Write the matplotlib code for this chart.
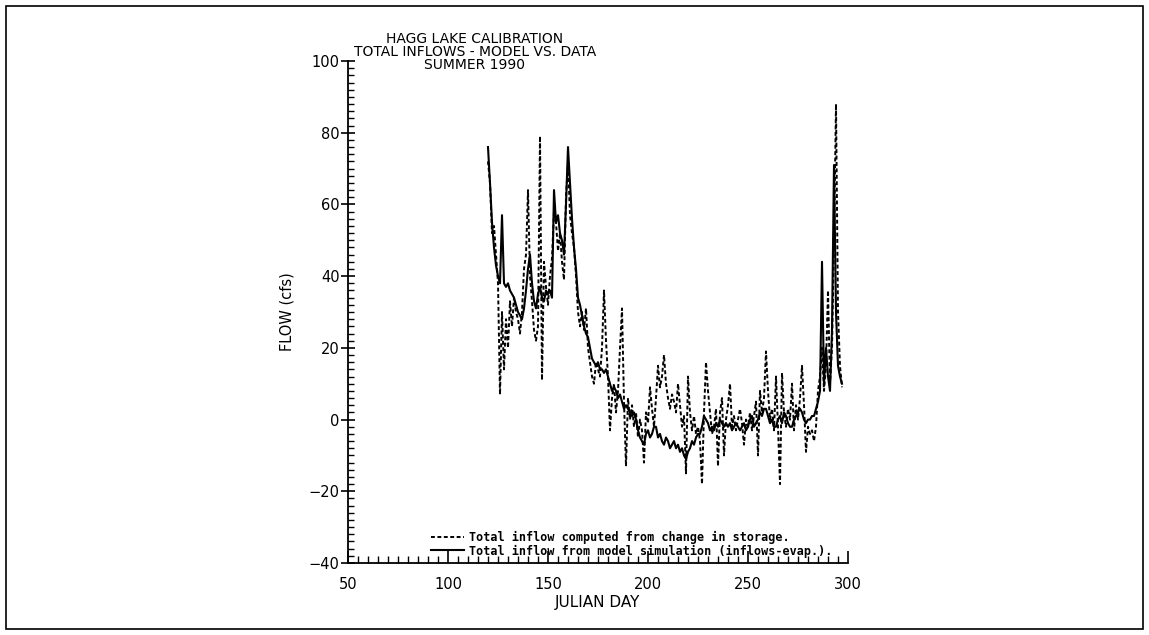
import numpy as np
import matplotlib
matplotlib.use('Agg')
import matplotlib.pyplot as plt
from matplotlib.patches import Rectangle
from matplotlib.ticker import MultipleLocator

# Julian day axis: one value per day, day 120 .. 297
first_day = 120
last_day = 297

# total inflow computed from change in storage (dashed)
data_flow = [
    72, 66, 52, 54, 46, 38, 7, 30, 14, 28,            # 120-129
    20, 33, 26, 34, 30, 28, 24, 30, 42, 46,           # 130-139
    64, 40, 33, 25, 22, 26, 79, 11, 44, 37,           # 140-149
    32, 40, 45, 58, 55, 47, 52, 44, 39, 62,           # 150-159
    72, 57, 52, 48, 40, 30, 26, 30, 25, 31,           # 160-169
    20, 16, 12, 10, 16, 14, 12, 20, 36, 22,           # 170-179
    12, -3, 6, 10, 2, 8, 20, 31, 5, -13,              # 180-189
    6, 0, 4, -2, 2, -5, 0, -3, -12, 2,                # 190-199
    -1, 9, 3, -2, 6, 15, 9, 12, 18, 10,               # 200-209
    6, 3, 7, 5, 2, 10, 4, -2, 1, -15,                 # 210-219
    12, 2, -3, 1, -4, -2, -6, -18, 2, 16,             # 220-229
    8, 2, -4, -2, 3, -13, 2, 6, -10, 0,               # 230-239
    4, 10, -2, 1, -3, 0, 3, -1, -7, 0,                # 240-249
    -2, 2, -3, 1, 5, -10, 8, 2, 6, 19,                # 250-259
    8, 0, 3, -3, 12, -2, -18, 13, 2, -2,              # 260-269
    3, 0, 10, -3, 4, 0, 6, 15, 4, -9,                 # 270-279
    -2, -4, -3, -6, -2, 8, 12, 20, 8, 15,             # 280-289
    36, 10, 20, 50, 88, 30, 15, 9,                    # 290-297
]

# total inflow from model simulation, inflows - evap. (solid)
model_flow = [
    76, 66, 55, 48, 43, 40, 38, 57, 38, 37,           # 120-129
    38, 36, 35, 34, 32, 30, 29, 28, 31, 36,           # 130-139
    42, 46, 38, 33, 31, 35, 37, 34, 33, 36,           # 140-149
    35, 36, 34, 64, 55, 57, 52, 50, 46, 60,           # 150-159
    76, 66, 56, 48, 42, 34, 32, 29, 26, 24,           # 160-169
    23, 20, 17, 16, 15, 16, 14, 14, 13, 14,           # 170-179
    12, 10, 8, 9, 8, 6, 7, 5, 3, 4,                   # 180-189
    3, 2, 1, 2, 0, -3, -5, -6, -7, -4,                # 190-199
    -3, -5, -4, -2, -2, -5, -4, -6, -7, -5,           # 200-209
    -6, -8, -7, -6, -8, -7, -9, -8, -10, -11,         # 210-219
    -9, -8, -6, -7, -5, -4, -4, -2, 1, 0,             # 220-229
    -1, -3, -2, -3, -1, -2, 0, -1, -2, -1,            # 230-239
    -2, -1, -3, -2, -1, -2, -3, -2, -1, -3,           # 240-249
    -2, 0, 1, -2, -1, 0, 2, 1, 3, 3,                  # 250-259
    1, -1, 0, -2, -2, 0, 1, -1, 2, 1,                 # 260-269
    -1, -2, -2, 0, 1, 2, 3, 2, 0, -1,                 # 270-279
    0, 0, 1, 1, 3, 5, 8, 44, 10, 20,                  # 280-289
    12, 8, 25, 71, 30, 15, 12, 10,                    # 290-297
]

days = np.arange(first_day, last_day + 1)

title_lines = ["HAGG LAKE CALIBRATION", "TOTAL INFLOWS - MODEL VS. DATA", "SUMMER 1990"]
data_label = "Total inflow computed from change in storage."
model_label = "Total inflow from model simulation (inflows-evap.)."

W, H = 1149, 635
fig = plt.figure(figsize=(W / 100, H / 100), dpi=100)
ax = fig.add_axes([348 / W, 1 - 563 / H, 500 / W, 502 / H])

ax.plot(days, data_flow, color='black', lw=1.4, linestyle=(0, (2.0, 1.3)),
        label=data_label)
ax.plot(days, model_flow, color='black', lw=1.5, label=model_label)

ax.set_xlim(50, 300)
ax.set_ylim(-40, 100)
ax.xaxis.set_major_locator(MultipleLocator(50))
ax.xaxis.set_minor_locator(MultipleLocator(5))
ax.yaxis.set_major_locator(MultipleLocator(20))
ax.yaxis.set_minor_locator(MultipleLocator(2))

for side in ['top', 'right']:
    ax.spines[side].set_visible(False)
for side in ['left', 'bottom']:
    ax.spines[side].set_linewidth(1.3)

ax.tick_params(axis='x', which='major', direction='in', length=9, width=1.2,
               labelsize=10.5, pad=10)
ax.tick_params(axis='x', which='minor', direction='in', length=5, width=1.0)
ax.tick_params(axis='y', which='major', direction='inout', length=10, width=1.2,
               labelsize=10.5, pad=1)
ax.tick_params(axis='y', which='minor', direction='in', length=4, width=1.0)

ax.set_xlabel("JULIAN DAY", fontsize=11, labelpad=2)
ax.set_ylabel("FLOW (cfs)", fontsize=10.5, labelpad=10)

fig.text(475 / W, 1 - 32 / H, "\n".join(title_lines), ha='center', va='top',
         fontsize=10, linespacing=0.92)

leg = ax.legend(loc='upper left', bbox_to_anchor=(0.165, 0.063), frameon=False,
                handlelength=2.8, handletextpad=0.5, labelspacing=0.0,
                borderpad=0, borderaxespad=0,
                prop={'family': 'DejaVu Sans Mono', 'size': 8.5, 'weight': 'bold'})

fig.add_artist(Rectangle((6 / W, 6 / H), 1 - 12 / W, 1 - 12 / H,
                         transform=fig.transFigure, fill=False,
                         edgecolor='black', lw=1.2))

fig.savefig("out.png", dpi=100)
